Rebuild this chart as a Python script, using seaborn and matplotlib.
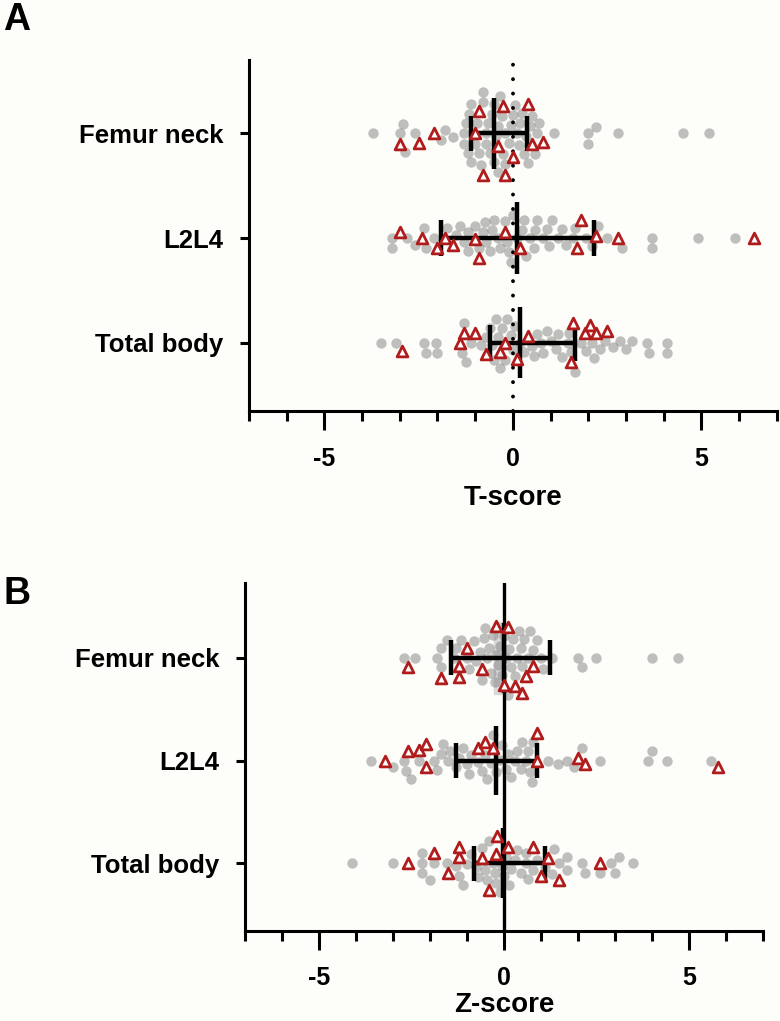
import numpy as np
import pandas as pd
import matplotlib.pyplot as plt
import seaborn as sns

##### data #####
sites = ["Femur neck", "L2L4", "Total body"]

# panel A : T-score, grey = controls, red triangles = patients
t_ctrl_fn = [-3.7, -3.0, -2.9, -2.85, -2.6, -1.9, -1.8, -1.6, -1.3, -1.3, -1.25, -1.2, -1.15,
             -1.1, -1.1, -1.0, -0.95, -0.9, -0.85, -0.8, -0.8, -0.7, -0.7, -0.65, -0.6, -0.55,
             -0.5, -0.5, -0.45, -0.4, -0.4, -0.35, -0.3, -0.25, -0.2, -0.2, -0.1, -0.05, 0.0,
             0.05, 0.1, 0.15, 0.2, 0.25, 0.3, 0.35, 0.4, 0.45, 0.5, 0.6, 0.65, 0.7, 1.1, 2.0,
             2.0, 2.2, 2.8, 4.5, 5.2]
t_ctrl_l2l4 = [-3.2, -3.2, -2.8, -2.6, -2.35, -2.3, -2.1, -1.75, -1.5, -1.4, -1.3, -1.2, -1.2,
               -1.0, -0.9, -0.8, -0.75, -0.7, -0.6, -0.55, -0.5, -0.4, -0.35, -0.2, -0.15, -0.1,
               -0.05, 0.0, 0.1, 0.25, 0.3, 0.35, 0.45, 0.55, 0.6, 0.65, 0.8, 0.9, 0.95, 1.05,
               1.2, 1.3, 1.4, 1.6, 1.65, 1.95, 2.1, 2.25, 2.5, 2.9, 3.7, 3.7, 4.9, 5.9]
t_ctrl_tb = [-3.5, -3.1, -2.35, -2.3, -2.05, -2.0, -1.35, -1.3, -1.25, -1.1, -0.85, -0.7, -0.6,
             -0.55, -0.5, -0.45, -0.4, -0.35, -0.3, -0.2, -0.15, -0.05, 0.0, 0.05, 0.2, 0.3,
             0.5, 0.55, 0.65, 0.75, 0.8, 0.9, 1.0, 1.15, 1.2, 1.3, 1.45, 1.5, 1.55, 1.65, 1.8,
             1.95, 2.1, 2.15, 2.3, 2.45, 2.65, 2.85, 3.0, 3.15, 3.55, 3.6, 4.1, 4.1]
t_pat_fn = [-3.0, -2.5, -2.1, -1.0, -0.9, -0.8, -0.4, -0.25, -0.2, 0.0, 0.4, 0.5, 0.8]
t_pat_l2l4 = [-3.0, -2.4, -2.0, -1.8, -1.6, -1.0, -0.9, -0.2, 0.2, 1.7, 1.8, 2.2, 2.8, 6.4]
t_pat_tb = [-2.95, -1.4, -1.3, -1.0, -0.7, -0.35, -0.2, 0.1, 0.4, 1.55, 1.6, 1.9, 2.05, 2.2, 2.5]

# summary bars (centre line, whisker ends) per site
t_center = [-0.50, 0.12, 0.20]
t_low = [-1.11, -1.91, -0.61]
t_high = [0.37, 2.14, 1.66]

# panel B : Z-score
z_ctrl_fn = [-2.7, -2.4, -1.8, -1.7, -1.7, -1.55, -1.35, -1.3, -1.15, -1.0, -0.95, -0.8, -0.75,
             -0.65, -0.6, -0.55, -0.5, -0.45, -0.4, -0.35, -0.3, -0.25, -0.2, -0.15, -0.1,
             -0.05, 0.0, 0.05, 0.1, 0.15, 0.2, 0.25, 0.3, 0.35, 0.4, 0.45, 0.5, 0.55, 0.65,
             0.7, 0.8, 0.9, 1.0, 1.05, 1.3, 2.0, 2.1, 2.5, 4.0, 4.7]
z_ctrl_l2l4 = [-3.6, -3.0, -2.7, -2.65, -2.5, -2.3, -1.9, -1.8, -1.7, -1.65, -1.5, -1.45, -1.3,
               -1.2, -1.1, -1.0, -0.95, -0.9, -0.7, -0.6, -0.5, -0.45, -0.35, -0.3, -0.2, -0.1,
               -0.05, 0.05, 0.1, 0.2, 0.3, 0.35, 0.45, 0.5, 0.6, 0.65, 0.7, 0.75, 0.8, 1.2,
               1.45, 1.7, 1.9, 2.1, 2.6, 3.9, 4.0, 4.4, 5.6]
z_ctrl_tb = [-4.1, -3.0, -2.2, -2.2, -2.2, -2.0, -1.9, -1.55, -1.3, -1.2, -1.1, -1.0, -0.9,
             -0.75, -0.7, -0.6, -0.5, -0.45, -0.4, -0.3, -0.25, -0.2, -0.1, -0.05, 0.0, 0.05,
             0.15, 0.2, 0.3, 0.35, 0.45, 0.6, 0.6, 0.65, 0.8, 0.9, 1.1, 1.3, 1.35, 1.5, 1.7,
             1.7, 2.1, 2.2, 2.6, 2.9, 3.0, 3.1, 3.5]
z_pat_fn = [-2.6, -1.7, -1.2, -1.2, -1.0, -0.6, -0.2, 0.0, 0.1, 0.3, 0.5, 0.6, 0.8]
z_pat_l2l4 = [-3.2, -2.6, -2.3, -2.1, -2.1, -0.7, -0.5, -0.3, 0.9, 0.9, 2.0, 2.2, 5.8]
z_pat_tb = [-2.6, -1.9, -1.5, -1.2, -1.2, -0.6, -0.4, -0.2, -0.18, 0.1, 0.8, 1.0, 1.2, 1.5, 2.6]

z_center = [0.0, -0.21, -0.02]
z_low = [-1.43, -1.30, -0.81]
z_high = [1.24, 0.89, 1.10]

##### style #####
sns.set_style("ticks")
bg = "#fdfdf9"
plt.rcParams["font.family"] = ["Liberation Sans", "DejaVu Sans"]
plt.rcParams["font.weight"] = "bold"
plt.rcParams["axes.labelweight"] = "bold"
for key in ["text.color", "axes.labelcolor", "xtick.color", "ytick.color"]:
    plt.rcParams[key] = "k"

fig = plt.figure(figsize=(7.8, 10.21), dpi=100)
fig.patch.set_facecolor(bg)


def make_panel(rect, ctrl, pat, center, low, high, ylim, xlabel, tickpad, labelpad):
    ax = fig.add_axes(rect)
    ax.set_facecolor(bg)
    rows = []
    for site, vals in zip(sites, ctrl):
        rows += [(site, v, "ctrl") for v in vals]
    for site, vals in zip(sites, pat):
        rows += [(site, v, "pat") for v in vals]
    df = pd.DataFrame(rows, columns=["site", "score", "group"])

    # let seaborn lay out the swarm, then redraw with the real markers
    sns.swarmplot(data=df, x="score", y="site", hue="group", order=sites,
                  hue_order=["ctrl", "pat"], palette={"ctrl": "0.5", "pat": "#b01c1c"},
                  size=7, linewidth=0, legend=False, ax=ax)
    ax.set_xlim(-7, 7)
    ax.set_ylim(*ylim)
    fig.canvas.draw()
    xy_list, fc_list = [], []
    for coll in list(ax.collections):
        xy_list.append(np.asarray(coll.get_offsets()))
        fc_list.append(coll.get_facecolors())
        coll.remove()
    xy = np.vstack(xy_list)
    fc = np.vstack(fc_list)
    is_pat = (fc[:, 0] - fc[:, 1]) > 0.2

    ax.scatter(xy[~is_pat, 0], xy[~is_pat, 1], s=56, color="0.5", alpha=0.5,
               linewidths=0, zorder=2)
    ax.scatter(xy[is_pat, 0], xy[is_pat, 1], s=60, marker="^", facecolor="white",
               edgecolor="#b01c1c", linewidths=2.0, zorder=5)

    pos = np.arange(len(sites))
    ax.hlines(pos, low, high, color="k", lw=3.2, zorder=4)
    ax.vlines(low, pos - 0.17, pos + 0.17, color="k", lw=3.2, zorder=4)
    ax.vlines(high, pos - 0.17, pos + 0.17, color="k", lw=3.2, zorder=4)
    ax.vlines(center, pos - 0.34, pos + 0.34, color="k", lw=3.2, zorder=4)

    ax.set_xticks([-5, 0, 5])
    ax.set_xticklabels(["-5", "0", "5"])
    ax.set_xticks(np.arange(-7, 8), minor=True)
    ax.tick_params(axis="x", which="major", length=14, width=2.2, pad=tickpad, labelsize=18)
    ax.tick_params(axis="x", which="minor", length=7.5, width=2.2)
    ax.tick_params(axis="y", length=6.5, width=2.2, pad=12, labelsize=18.5)
    for lab in ax.get_yticklabels() + ax.get_xticklabels():
        lab.set_fontweight("bold")
    ax.set_xlabel(xlabel, fontsize=20, fontweight="bold", labelpad=labelpad)
    ax.set_ylabel("")
    sns.despine(ax=ax)
    for side in ["left", "bottom"]:
        ax.spines[side].set_linewidth(2.2)
        ax.spines[side].set_color("k")
    ax.set_xlim(-7, 7)
    ax.set_ylim(*ylim)
    return ax


axA = make_panel([0.319, 0.5975, 0.677, 0.3437], [t_ctrl_fn, t_ctrl_l2l4, t_ctrl_tb],
                 [t_pat_fn, t_pat_l2l4, t_pat_tb], t_center, t_low, t_high,
                 (2.65, -0.70), "T-score", 12, 10)
axA.axvline(0, color="k", lw=2.8, linestyle=(0, (0.01, 3.7)), dash_capstyle="round",
            zorder=3)

axB = make_panel([0.314, 0.0882, 0.664, 0.3408], [z_ctrl_fn, z_ctrl_l2l4, z_ctrl_tb],
                 [z_pat_fn, z_pat_l2l4, z_pat_tb], z_center, z_low, z_high,
                 (2.66, -0.73), "Z-score", 11, 2)
axB.axvline(0, color="k", lw=2.4, zorder=3)
# light grey band behind the femur neck centre line
axB.fill_betweenx([-0.35, 0.35], -0.27, -0.06, color="0.85", zorder=1)

for label, y in [("A", 0.998), ("B", 0.436)]:
    fig.text(0.004, y, label, va="top", ha="left", fontsize=27, fontweight="bold",
             family=["Liberation Sans Narrow", "DejaVu Sans Condensed", "Liberation Sans"])

fig.savefig("out.png", dpi=100, facecolor=bg)
